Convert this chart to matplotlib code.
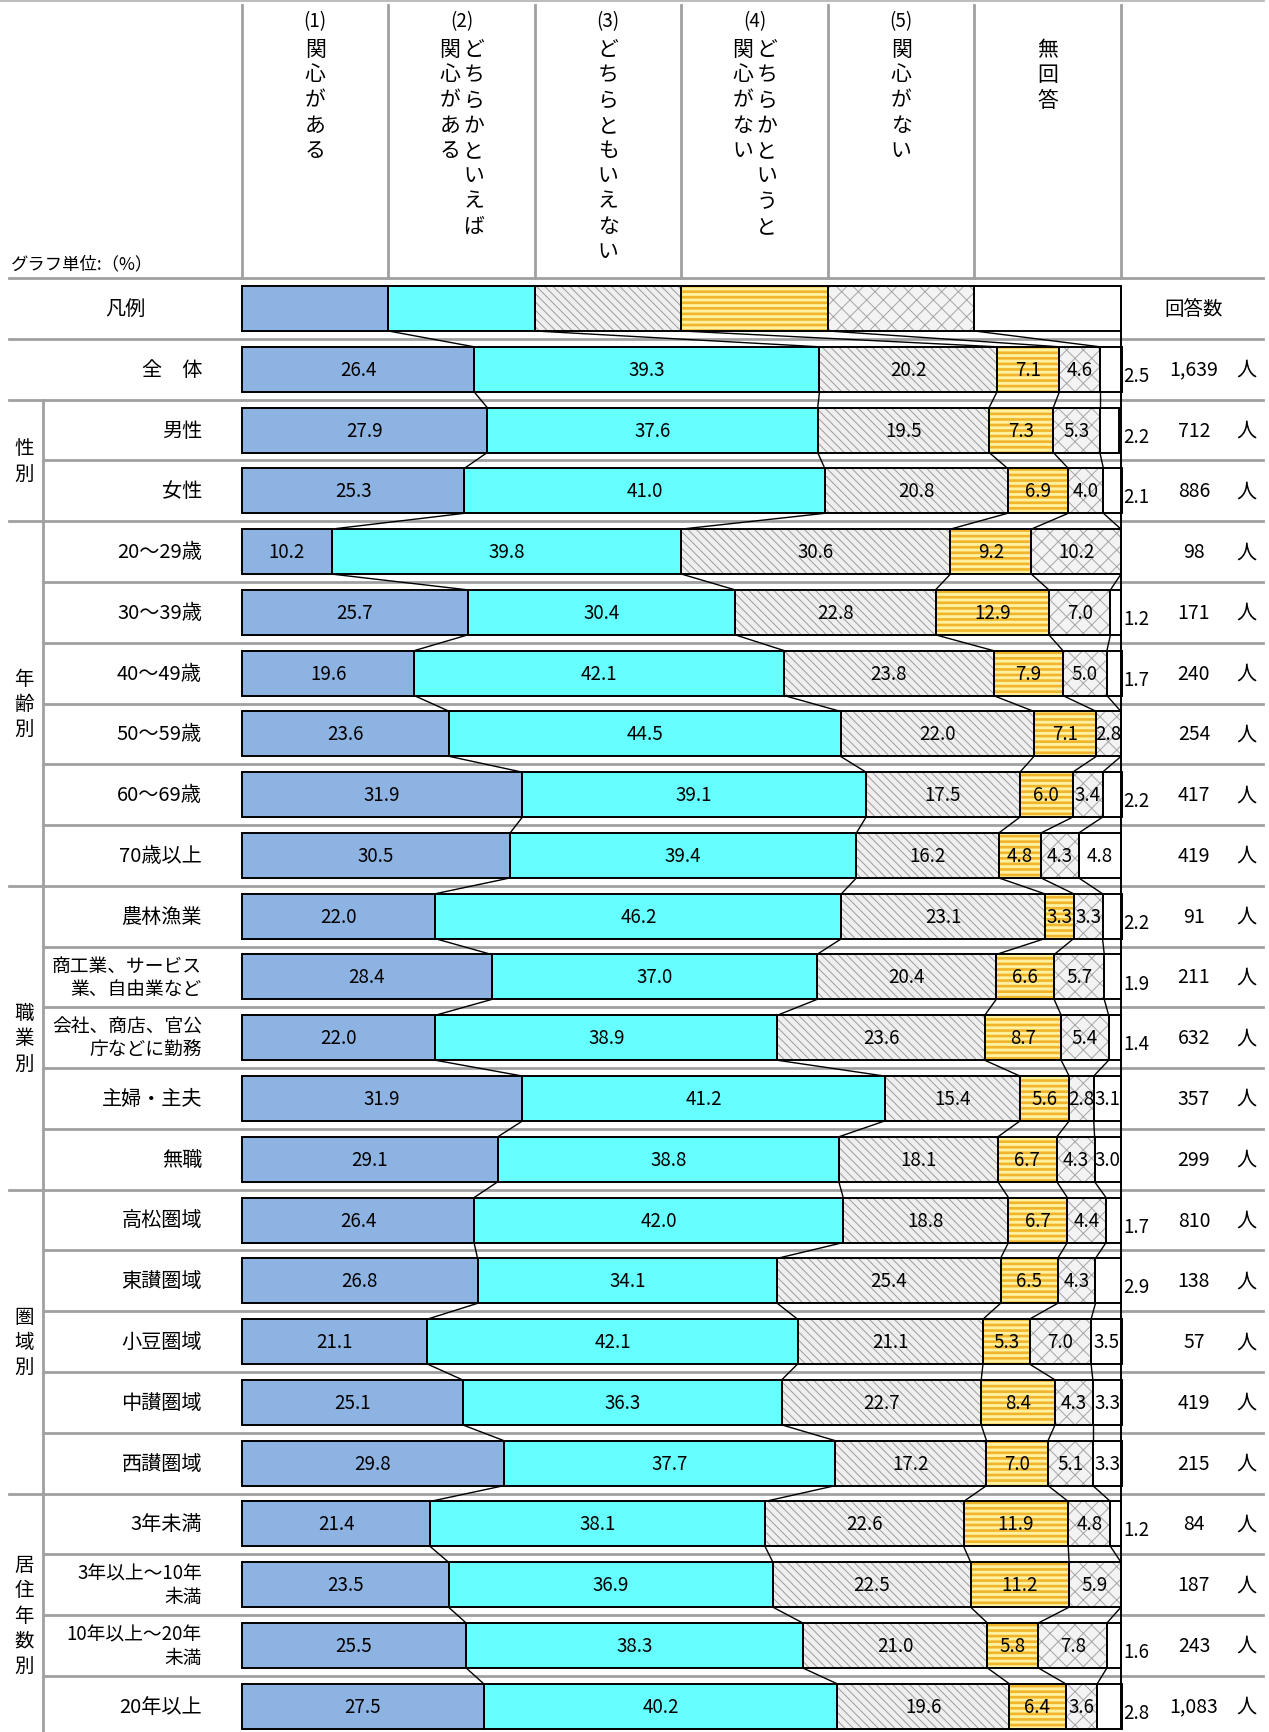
import numpy as np
import matplotlib
matplotlib.use("Agg")
import matplotlib.pyplot as plt

plt.rcParams['font.family'] = ['Noto Sans CJK JP', 'DejaVu Sans']

# 行ラベル
labels = ['全　体', '男性', '女性',
          '20～29歳', '30～39歳', '40～49歳', '50～59歳', '60～69歳', '70歳以上',
          '農林漁業', '商工業、サービス\n業、自由業など', '会社、商店、官公\n庁などに勤務', '主婦・主夫', '無職',
          '高松圏域', '東讃圏域', '小豆圏域', '中讃圏域', '西讃圏域',
          '3年未満', '3年以上～10年\n未満', '10年以上～20年\n未満', '20年以上']

# (1)関心がある
s1 = [26.4, 27.9, 25.3, 10.2, 25.7, 19.6, 23.6, 31.9, 30.5,
      22.0, 28.4, 22.0, 31.9, 29.1, 26.4, 26.8, 21.1, 25.1, 29.8,
      21.4, 23.5, 25.5, 27.5]
# (2)どちらかといえば関心がある
s2 = [39.3, 37.6, 41.0, 39.8, 30.4, 42.1, 44.5, 39.1, 39.4,
      46.2, 37.0, 38.9, 41.2, 38.8, 42.0, 34.1, 42.1, 36.3, 37.7,
      38.1, 36.9, 38.3, 40.2]
# (3)どちらともいえない
s3 = [20.2, 19.5, 20.8, 30.6, 22.8, 23.8, 22.0, 17.5, 16.2,
      23.1, 20.4, 23.6, 15.4, 18.1, 18.8, 25.4, 21.1, 22.7, 17.2,
      22.6, 22.5, 21.0, 19.6]
# (4)どちらかというと関心がない
s4 = [7.1, 7.3, 6.9, 9.2, 12.9, 7.9, 7.1, 6.0, 4.8,
      3.3, 6.6, 8.7, 5.6, 6.7, 6.7, 6.5, 5.3, 8.4, 7.0,
      11.9, 11.2, 5.8, 6.4]
# (5)関心がない
s5 = [4.6, 5.3, 4.0, 10.2, 7.0, 5.0, 2.8, 3.4, 4.3,
      3.3, 5.7, 5.4, 2.8, 4.3, 4.4, 4.3, 7.0, 4.3, 5.1,
      4.8, 5.9, 7.8, 3.6]
# 無回答
s6 = [2.5, 2.2, 2.1, 0.0, 1.2, 1.7, 0.0, 2.2, 4.8,
      2.2, 1.9, 1.4, 3.1, 3.0, 1.7, 2.9, 3.5, 3.3, 3.3,
      1.2, 0.0, 1.6, 2.8]
# 回答数
counts = ['1,639', '712', '886', '98', '171', '240', '254', '417', '419',
          '91', '211', '632', '357', '299', '810', '138', '57', '419', '215',
          '84', '187', '243', '1,083']

# 見出し（縦書き）
headers = [('(1)', ['関心がある']),
           ('(2)', ['どちらかといえば', '関心がある']),
           ('(3)', ['どちらともいえない']),
           ('(4)', ['どちらかというと', '関心がない']),
           ('(5)', ['関心がない']),
           ('', ['無回答'])]

# グループ（名前, 最初の行, 最後の行）
groups = [('性別', 2, 3), ('年齢別', 4, 9), ('職業別', 10, 14),
          ('圏域別', 15, 19), ('居住年数別', 20, 23)]

faces = ['#8db3e2', '#66ffff', '#efefef', '#fff1a0', '#f3f3f3', 'white']
hatches = [None, None, '\\\\\\\\', '---', 'xx', None]
hcolors = ['#8db3e2', '#66ffff', '#9d9d9d', '#f0b52a', '#a5a5a5', 'white']
hlws = [1.0, 1.0, 0.7, 1.9, 0.7, 1.0]

fig = plt.figure(figsize=(12.69, 17.33), dpi=100)
ax = fig.add_axes([0, 0, 1, 1])
ax.set_xlim(-27.53, 116.84)
ax.set_ylim(23.424, -5.093)
ax.axis('off')

H = 0.74
grey = '#a0a0a0'
data = np.array([s1, s2, s3, s4, s5, s6]).T
ypos = np.arange(1, len(labels) + 1)

# 区切り線
ax.plot([-27.5, 116.3], [-5.068, -5.068], color='#b0b0b0', lw=1.2, zorder=1)
group_starts = [g[1] for g in groups]
for k in range(-1, len(labels)):
    yy = k + 0.5
    x0 = -26.5 if (k + 1 in group_starts or k < 2) else -22.64
    ax.plot([x0, 116.2], [yy, yy], color=grey, lw=2.0, zorder=1)
ax.plot([-22.64, -22.64], [1.5, 23.5], color=grey, lw=2.0, zorder=1)
for j in range(7):
    xx = j * 100 / 6
    ax.plot([xx, xx], [-4.99, -0.5], color=grey, lw=2.0, zorder=1)

# 見出し
step = 0.416
for j, (num, cols) in enumerate(headers):
    xc = (j + 0.5) * 100 / 6
    if num:
        ax.text(xc, -4.74, num, ha='center', va='center', fontsize=13.5)
    offs = [0] if len(cols) == 1 else [1.35, -1.35]
    for col, off in zip(cols, offs):
        for m, ch in enumerate(col):
            ax.text(xc + off, -4.27 + m * step, ch, ha='center', va='center', fontsize=15)
ax.text(-26.3, -0.74, 'グラフ単位:（%）', ha='left', va='center', fontsize=12.5)

# 凡例の帯
leg_w = [100 / 6] * 6
left = 0
for k in range(6):
    p = ax.barh(0, leg_w[k], left=left, height=H, color=faces[k], edgecolor=hcolors[k],
                linewidth=0, hatch=hatches[k], zorder=3)
    for patch in p:
        if hasattr(patch, 'set_hatch_linewidth'):
            patch.set_hatch_linewidth(hlws[k])
    ax.barh(0, leg_w[k], left=left, height=H, fill=False, edgecolor='black', linewidth=1.4, zorder=4)
    left += leg_w[k]
ax.text(-13.3, 0, '凡例', ha='center', va='center', fontsize=14.5)
ax.text(108.3, 0, '回答数', ha='center', va='center', fontsize=14)

# 帯グラフ
lefts = np.zeros(len(labels))
for k in range(6):
    vals = data[:, k]
    p = ax.barh(ypos, vals, left=lefts, height=H, color=faces[k], edgecolor=hcolors[k],
                linewidth=0, hatch=hatches[k], zorder=3)
    for patch in p:
        if hasattr(patch, 'set_hatch_linewidth'):
            patch.set_hatch_linewidth(hlws[k])
    ax.barh(ypos, vals, left=lefts, height=H, fill=False, edgecolor='black', linewidth=1.4, zorder=4)
    for i, v in enumerate(vals):
        if v <= 0:
            continue
        if k == 5 and v < 3.0:
            ax.text(100.3, ypos[i] + 0.1, f'{v:.1f}', ha='left', va='center', fontsize=13.5, zorder=5)
        else:
            ax.text(lefts[i] + v / 2, ypos[i], f'{v:.1f}', ha='center', va='center',
                    fontsize=13.5, zorder=5)
    lefts += vals

# 帯の間をつなぐ線
cum = np.cumsum(data, axis=1)
prev = np.cumsum(leg_w)
prev_y = 0
for i, yv in enumerate(ypos):
    for k in range(5):
        ax.plot([prev[k], cum[i, k]], [prev_y + H / 2, yv - H / 2], color='black', lw=1.0, zorder=2)
    prev = cum[i]
    prev_y = yv
ax.plot([100, 100], [-H / 2, ypos[-1] + H / 2], color='black', lw=1.4, zorder=4)

# 行ラベル・回答数
for i, yv in enumerate(ypos):
    fs = 13.5 if '\n' in labels[i] else 14.5
    ax.text(-4.55, yv, labels[i], ha='right', va='center', fontsize=fs,
            multialignment='right', linespacing=1.15)
    ax.text(108.3, yv, counts[i], ha='center', va='center', fontsize=14)
    ax.text(114.3, yv, '人', ha='center', va='center', fontsize=14.5)

for name, a, b in groups:
    yc = (a + b) / 2
    n = len(name)
    for m, ch in enumerate(name):
        ax.text(-24.8, yc + (m - (n - 1) / 2) * 0.416, ch, ha='center', va='center', fontsize=14)

fig.savefig('out.png', dpi=100)
